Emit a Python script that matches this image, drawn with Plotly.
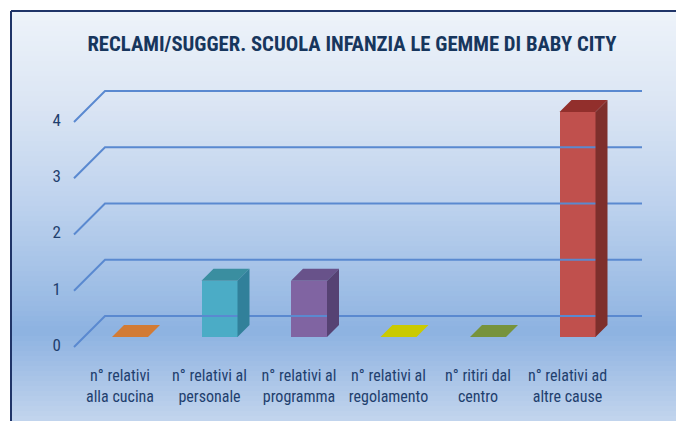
import plotly.graph_objects as go

# ---------------- data ----------------
categories = [
    "n° relativi<br>alla cucina",
    "n° relativi al<br>personale",
    "n° relativi al<br>programma",
    "n° relativi al<br>regolamento",
    "n° ritiri dal<br>centro",
    "n° relativi ad<br>altre cause",
]
values = [0, 1, 1, 0, 0, 4]
y_ticks = [0, 1, 2, 3, 4]
title_text = "RECLAMI/SUGGER. SCUOLA INFANZIA LE GEMME DI BABY CITY"

front_colors = ["#D27B35", "#4BACC6", "#8064A2", "#CACA00", "#77933C", "#C0504D"]
top_colors = ["#D27B35", "#3A8EA0", "#68528A", "#CACA00", "#77933C", "#922F2C"]
side_colors = ["#A8612A", "#31809A", "#564273", "#A3A300", "#5E752F", "#7E2F2C"]

# ---------------- layout geometry (page pixels; page has an 8px body margin) ----------------
OFF = 8
PAGE_W, PAGE_H = 684, 421
W, H = PAGE_W - OFF, PAGE_H - OFF
PLOT_L, PLOT_R, PLOT_T, PLOT_B = 70, 655, 60, 357   # plot area in page px
L = PLOT_L - OFF
R = (W + OFF) - PLOT_R
T = PLOT_T - OFF
B = (H + OFF) - PLOT_B
PX_PER_CAT = 89.5
PX_PER_UNIT = 56.25
X0_PX = 130                           # page pixel of first category centre
BASE_PX = 337                         # page pixel of value 0 (bar front)
plot_w = PLOT_R - PLOT_L
plot_h = PLOT_B - PLOT_T
x0 = (PLOT_L - X0_PX) / PX_PER_CAT
x1 = x0 + plot_w / PX_PER_CAT
y0 = -(PLOT_B - BASE_PX) / PX_PER_UNIT
y1 = y0 + plot_h / PX_PER_UNIT

half_w = 18 / PX_PER_CAT
dx = 12 / PX_PER_CAT
dy = 12 / PX_PER_UNIT

font_fam = "Liberation Sans Narrow, Arial Narrow, Roboto Condensed, Liberation Sans, sans-serif"
txt_col = "#1F3F6E"

def px2paper_x(px):
    return (px - PLOT_L) / plot_w

def py2paper_y(py):
    return (PLOT_B - py) / plot_h

fig = go.Figure()

# gradient background strips
stops = [(11, (238, 243, 250)), (100, (220, 230, 244)), (200, (191, 211, 238)),
         (300, (154, 187, 228)), (332, (141, 178, 225)), (421, (194, 213, 237))]
shapes = []
n = 82
for k in range(n):
    ya = 11 + (PAGE_H - 11) * k / n
    yb = 11 + (PAGE_H - 11) * (k + 1) / n
    ym = (ya + yb) / 2
    for (p0, c0), (p1, c1) in zip(stops[:-1], stops[1:]):
        if p0 <= ym <= p1:
            t = (ym - p0) / (p1 - p0)
            col = tuple(round(a + (b - a) * t) for a, b in zip(c0, c1))
            break
    shapes.append(dict(type="rect", xref="paper", yref="paper", layer="below",
                       x0=px2paper_x(11), x1=px2paper_x(PAGE_W + 5),
                       y0=py2paper_y(yb + 0.6), y1=py2paper_y(ya),
                       fillcolor="rgb(%d,%d,%d)" % col, line=dict(width=0)))
# frame (left + top)
shapes.append(dict(type="line", xref="paper", yref="paper", layer="below",
                   x0=px2paper_x(11), x1=px2paper_x(11), y0=py2paper_y(PAGE_H + 5), y1=py2paper_y(11),
                   line=dict(color="#1F3468", width=2)))
shapes.append(dict(type="line", xref="paper", yref="paper", layer="below",
                   x0=px2paper_x(11), x1=px2paper_x(PAGE_W + 5), y0=py2paper_y(11), y1=py2paper_y(11),
                   line=dict(color="#1F3468", width=2)))

# back-wall gridlines with diagonal floor edge
gx_front = (74 - X0_PX) / PX_PER_CAT
gx_back = (105 - X0_PX) / PX_PER_CAT
gx_end = (642 - X0_PX) / PX_PER_CAT
g_front_off = -10 / PX_PER_UNIT
g_back_off = 21 / PX_PER_UNIT
for v in y_ticks:
    fig.add_trace(go.Scatter(
        x=[gx_front, gx_back, gx_end],
        y=[v + g_front_off, v + g_back_off, v + g_back_off],
        mode="lines", line=dict(color="#5A89D0", width=2),
        hoverinfo="skip", showlegend=False))

# bars: front faces
xs = list(range(len(categories)))
fig.add_trace(go.Bar(x=xs, y=values, width=2 * half_w, marker=dict(color=front_colors, line=dict(width=0)),
                     showlegend=False, hoverinfo="x+y"))

# top and side faces
for i, v in enumerate(values):
    c = xs[i]
    fig.add_trace(go.Scatter(
        x=[c - half_w, c + half_w, c + half_w + dx, c - half_w + dx, c - half_w],
        y=[v, v, v + dy, v + dy, v],
        fill="toself", fillcolor=top_colors[i], mode="lines",
        line=dict(width=0, color=top_colors[i]), hoverinfo="skip", showlegend=False))
    if v > 0:
        fig.add_trace(go.Scatter(
            x=[c + half_w, c + half_w + dx, c + half_w + dx, c + half_w, c + half_w],
            y=[v, v + dy, dy, 0, v],
            fill="toself", fillcolor=side_colors[i], mode="lines",
            line=dict(width=0, color=side_colors[i]), hoverinfo="skip", showlegend=False))

fig.update_layout(
    width=W, height=H,
    margin=dict(l=L, r=R, t=T, b=B, autoexpand=False),
    paper_bgcolor="white", plot_bgcolor="rgba(0,0,0,0)",
    shapes=shapes,
    title=dict(text="<b>" + title_text + "</b>", x=(352 - OFF) / W, xref="container", xanchor="center",
               y=1 - (44 - OFF) / H, yref="container", yanchor="middle", automargin=False,
               font=dict(family=font_fam, size=20.7, color="#17365D")),
    xaxis=dict(range=[x0, x1], tickvals=xs, ticktext=categories, showgrid=False,
               zeroline=False, showline=False, ticks="", ticklabelshift=-10,
               ticklabelstandoff=7, automargin=False,
               tickfont=dict(family=font_fam, size=16, color=txt_col), fixedrange=True),
    yaxis=dict(range=[y0, y1], tickvals=y_ticks, ticktext=[str(v) for v in y_ticks],
               showgrid=False, zeroline=False, showline=False, ticks="",
               ticklabelshift=8, ticklabelstandoff=8, automargin=False,
               tickfont=dict(family=font_fam, size=17, color=txt_col), fixedrange=True),
    bargap=0,
)

fig.write_html("out.html")
